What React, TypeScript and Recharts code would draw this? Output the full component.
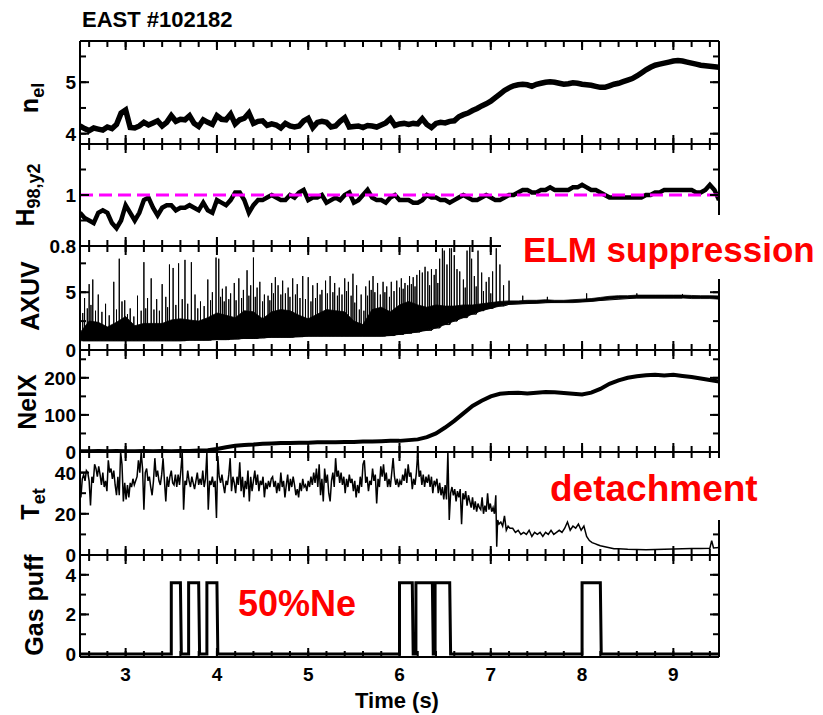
import React from "react";
import { ComposedChart, Line, Area, XAxis, YAxis, ReferenceLine } from "recharts";

const FONT = "'Liberation Sans', Arial, Helvetica, sans-serif";
const CHART_W = 823;
const PLOT_L = 80;
const PLOT_W = 639;
const PLOT_R = CHART_W - PLOT_L - PLOT_W;
const PAD = 14;
const T0 = 2.5;
const X_DOMAIN: [number, number] = [2.5, 9.5];
const TICK_IN = 6;

// shared time axis
const xTicks = [2.6, 2.8, 3, 3.2, 3.4, 3.6, 3.8, 4, 4.2, 4.4, 4.6, 4.8, 5, 5.2, 5.4, 5.6, 5.8, 6, 6.2, 6.4, 6.6, 6.8, 7, 7.2, 7.4, 7.6, 7.8, 8, 8.2, 8.4, 8.6, 8.8, 9, 9.2, 9.4];
const xLabels = [3, 4, 5, 6, 7, 8, 9];

// line-averaged density, every 0.05 s from 2.5 s
const nelValues = [
  4.15, 4.10, 4.06, 4.11, 4.09, 4.07, 4.13, 4.10, 4.18, 4.40,
  4.46, 4.12, 4.11, 4.15, 4.22, 4.17, 4.21, 4.25, 4.15, 4.22,
  4.35, 4.24, 4.28, 4.27, 4.35, 4.20, 4.14, 4.27, 4.22, 4.18,
  4.35, 4.28, 4.27, 4.38, 4.19, 4.27, 4.30, 4.40, 4.20, 4.24,
  4.25, 4.16, 4.19, 4.17, 4.11, 4.20, 4.15, 4.13, 4.15, 4.25,
  4.30, 4.12, 4.22, 4.24, 4.22, 4.13, 4.15, 4.24, 4.31, 4.13,
  4.14, 4.15, 4.12, 4.16, 4.15, 4.13, 4.17, 4.21, 4.29, 4.16,
  4.19, 4.20, 4.18, 4.20, 4.19, 4.29, 4.18, 4.12, 4.20, 4.22,
  4.21, 4.24, 4.25, 4.33, 4.37, 4.40, 4.45, 4.49, 4.54, 4.58,
  4.63, 4.70, 4.77, 4.84, 4.89, 4.93, 4.95, 4.96, 4.95, 4.92,
  4.96, 4.98, 5.00, 5.01, 5.00, 4.98, 4.96, 4.97, 4.99, 4.98,
  4.96, 4.95, 4.94, 4.92, 4.90, 4.90, 4.93, 4.96, 4.98, 5.01,
  5.04, 5.07, 5.12, 5.18, 5.24, 5.29, 5.33, 5.35, 5.37, 5.39,
  5.41, 5.42, 5.41, 5.39, 5.37, 5.35, 5.33, 5.32, 5.31, 5.30,
  5.29,
];

// H98,y2, every 0.05 s from 2.5 s
const h98Values = [
  0.93, 0.91, 0.90, 0.89, 0.93, 0.94, 0.93, 0.89, 0.87, 0.90,
  0.96, 0.93, 0.90, 0.93, 0.98, 0.99, 0.95, 0.92, 0.95, 0.96,
  0.96, 0.94, 0.95, 0.95, 0.96, 0.95, 0.94, 0.97, 0.94, 0.93,
  0.98, 0.97, 0.96, 0.98, 1.01, 1.01, 0.98, 0.93, 0.96, 0.98,
  0.98, 0.99, 1.00, 0.99, 0.98, 0.98, 1.00, 0.99, 1.01, 1.02,
  0.98, 0.99, 0.99, 1.00, 0.97, 0.98, 0.99, 0.98, 1.00, 1.01,
  0.97, 0.98, 1.00, 1.02, 0.99, 0.98, 0.98, 0.97, 0.99, 1.00,
  0.98, 0.98, 0.98, 0.97, 0.97, 0.98, 1.00, 0.99, 0.99, 0.98,
  0.98, 0.97, 0.98, 0.99, 1.00, 0.99, 0.98, 0.98, 0.99, 1.00,
  0.99, 0.98, 0.98, 0.99, 1.00, 1.00, 1.01, 1.02, 1.02, 1.01,
  1.01, 1.02, 1.02, 1.03, 1.02, 1.02, 1.02, 1.02, 1.03, 1.03,
  1.04, 1.03, 1.02, 1.02, 1.01, 1.00, 0.99, 0.99, 0.99, 0.99,
  0.99, 0.99, 0.99, 0.99, 1.00, 1.00, 1.01, 1.01, 1.02, 1.02,
  1.02, 1.02, 1.02, 1.02, 1.02, 1.01, 1.01, 1.02, 1.04, 1.02,
  0.98,
];

// AXUV dense band (lower / upper edge), every 0.1 s from 2.5 s
const axuvLow = [
  0.8, 0.8, 0.8, 0.8, 0.8, 0.8, 0.8, 0.8, 0.8, 0.8,
  0.8, 0.8, 0.85, 0.85, 0.85, 0.9, 0.9, 0.95, 1.0, 1.0,
  1.05, 1.1, 1.1, 1.1, 1.15, 1.2, 1.2, 1.2, 1.2, 1.2,
  1.2, 1.2, 1.2, 1.2, 1.25, 1.35, 1.45, 1.55, 1.7, 1.9,
  2.2, 2.5, 2.8, 3.1, 3.4, 3.6, 3.8, 3.95, 4.0, 4.05,
  4.05, 4.1, 4.1, 4.1, 4.1, 4.15, 4.2, 4.3, 4.4, 4.45,
  4.5, 4.5, 4.5, 4.5, 4.5, 4.5, 4.5, 4.45, 4.45, 4.45,
  4.4,
];
const axuvHigh = [
  1.5, 2.5, 2.4, 2.0, 2.4, 2.9, 2.1, 2.3, 2.3, 2.3,
  2.6, 2.7, 2.6, 2.5, 2.8, 3.2, 3.0, 2.8, 3.4, 3.3,
  2.7, 3.3, 3.5, 3.4, 3.0, 2.7, 3.1, 3.5, 3.4, 3.3,
  2.5, 2.2, 3.5, 3.7, 3.3, 3.9, 4.2, 3.9, 3.7, 3.9,
  3.8, 3.8, 3.9, 3.9, 4.0, 4.1, 4.2, 4.25, 4.25, 4.3,
  4.3, 4.35, 4.3, 4.3, 4.35, 4.4, 4.45, 4.55, 4.65, 4.7,
  4.7, 4.75, 4.75, 4.75, 4.75, 4.75, 4.75, 4.72, 4.7, 4.7,
  4.68,
];
// ELM bursts: [time, peak]
const axuvSpikes: [number, number][] = [
  [2.53, 3.2], [2.55, 4.5], [2.58, 3.6], [2.6, 5.7], [2.62, 3.9], [2.64, 6.1], [2.67, 3.4], [2.7, 4.8], [2.74, 3.3], [2.78, 4.0],
  [2.82, 3.0], [2.87, 5.9], [2.9, 3.5], [2.93, 7.9], [2.96, 4.2], [2.99, 4.3], [3.02, 3.1], [3.05, 3.6], [3.09, 2.9], [3.13, 4.7],
  [3.17, 3.4], [3.2, 7.6], [3.22, 3.6], [3.24, 4.5], [3.28, 6.2], [3.31, 3.5], [3.34, 4.4], [3.37, 3.4], [3.4, 5.7], [3.44, 4.6],
  [3.46, 3.7], [3.48, 7.4], [3.52, 7.1], [3.55, 3.9], [3.58, 7.5], [3.62, 4.4], [3.65, 7.8], [3.68, 4.0], [3.72, 7.6], [3.76, 4.8],
  [3.79, 3.6], [3.82, 4.2], [3.86, 3.8], [3.9, 6.1], [3.93, 4.3], [3.95, 5.0], [3.99, 8.0], [4.02, 7.9], [4.04, 4.6], [4.06, 5.3],
  [4.08, 4.2], [4.1, 5.5], [4.13, 4.4], [4.15, 4.9], [4.19, 5.8], [4.21, 4.3], [4.24, 6.2], [4.27, 4.5], [4.29, 5.2], [4.33, 6.9],
  [4.35, 4.7], [4.37, 5.6], [4.4, 8.0], [4.42, 4.6], [4.44, 5.4], [4.47, 5.9], [4.5, 4.2], [4.52, 4.8], [4.56, 4.7], [4.58, 4.3],
  [4.6, 5.8], [4.62, 4.9], [4.64, 6.3], [4.67, 5.6], [4.7, 4.8], [4.72, 6.0], [4.75, 4.9], [4.78, 5.4], [4.8, 4.6], [4.83, 6.2],
  [4.86, 4.8], [4.88, 5.7], [4.91, 4.5], [4.94, 6.4], [4.97, 4.4], [5.0, 6.3], [5.03, 4.2], [5.05, 5.6], [5.08, 4.5], [5.1, 5.8],
  [5.13, 4.8], [5.15, 5.2], [5.19, 6.0], [5.21, 4.9], [5.24, 6.4], [5.27, 5.0], [5.29, 5.8], [5.32, 4.7], [5.34, 5.4], [5.37, 4.8],
  [5.4, 6.2], [5.42, 5.1], [5.44, 5.9], [5.47, 4.7], [5.49, 6.6], [5.51, 4.1], [5.53, 5.6], [5.56, 3.5], [5.58, 4.8], [5.61, 3.4],
  [5.63, 5.5], [5.65, 4.7], [5.67, 6.0], [5.69, 5.2], [5.71, 6.4], [5.73, 5.0], [5.76, 5.8], [5.79, 4.8], [5.82, 5.9], [5.84, 5.0],
  [5.86, 5.5], [5.89, 4.6], [5.91, 5.9], [5.94, 5.1], [5.97, 6.0], [6.0, 5.4], [6.02, 6.2], [6.04, 5.3], [6.06, 5.8], [6.09, 5.6],
  [6.11, 6.4], [6.13, 5.7], [6.15, 6.3], [6.17, 5.5], [6.19, 6.5], [6.22, 6.9], [6.25, 6.7], [6.28, 7.2], [6.31, 6.8], [6.33, 5.6],
  [6.35, 7.0], [6.38, 6.5], [6.4, 7.0], [6.42, 5.8], [6.44, 7.9], [6.47, 8.8], [6.49, 8.6], [6.52, 7.4], [6.55, 8.8], [6.57, 8.8],
  [6.6, 8.2], [6.63, 7.0], [6.66, 6.8], [6.7, 6.1], [6.72, 5.4], [6.74, 8.6], [6.77, 8.9], [6.79, 7.9], [6.82, 6.4], [6.84, 5.5],
  [6.86, 8.6], [6.9, 6.7], [6.92, 5.1], [6.95, 5.9], [6.98, 6.3], [7.0, 4.9], [7.02, 6.8], [7.06, 8.8], [7.1, 7.4], [7.14, 5.6],
  [7.2, 6.0], [7.35, 4.7], [7.62, 4.6], [8.05, 4.9], [8.6, 4.9], [9.1, 4.85],
];

// NeIX, every 0.1 s from 2.5 s
const neixValues = [
  2, 2, 3, 2, 3, 2, 2, 3, 2, 3,
  2, 3, 3, 4, 5, 8, 13, 17, 19, 20,
  22, 23, 24, 24, 25, 25, 26, 26, 26, 27,
  27, 28, 28, 29, 30, 30, 32, 34, 40, 50,
  66, 84, 104, 124, 138, 150, 157, 159, 160, 158,
  160, 162, 161, 159, 157, 155, 160, 170, 184, 193,
  200, 204, 207, 208, 206, 208, 205, 202, 198, 194,
  190,
];

// target electron temperature: [time, Tet]
const tetPoints: [number, number][] = [
  [2.5, 30], [2.51, 28], [2.525, 37], [2.54, 39], [2.555, 36], [2.57, 41], [2.585, 40], [2.6, 36], [2.615, 24], [2.63, 38],
  [2.645, 35], [2.66, 44], [2.675, 42], [2.69, 38], [2.705, 43], [2.72, 39], [2.735, 34], [2.75, 40], [2.765, 33], [2.78, 36],
  [2.795, 31], [2.81, 46], [2.825, 40], [2.84, 42], [2.855, 37], [2.87, 41], [2.885, 34], [2.9, 29], [2.915, 38], [2.93, 29],
  [2.945, 50], [2.96, 44], [2.975, 26], [2.99, 35], [3.005, 27], [3.02, 34], [3.035, 28], [3.05, 35], [3.065, 33], [3.08, 37],
  [3.095, 34], [3.11, 36], [3.125, 38], [3.14, 46], [3.155, 40], [3.17, 50], [3.185, 42], [3.2, 22], [3.215, 40], [3.23, 42],
  [3.245, 36], [3.26, 38], [3.275, 33], [3.29, 29], [3.305, 36], [3.32, 47], [3.335, 38], [3.35, 41], [3.365, 36], [3.38, 34],
  [3.395, 39], [3.41, 47], [3.425, 36], [3.44, 26], [3.455, 38], [3.47, 33], [3.485, 38], [3.5, 41], [3.515, 35], [3.53, 34],
  [3.545, 39], [3.56, 33], [3.575, 39], [3.59, 34], [3.605, 41], [3.62, 50], [3.635, 22], [3.65, 36], [3.665, 34], [3.68, 41],
  [3.695, 36], [3.71, 33], [3.725, 38], [3.74, 35], [3.755, 32], [3.77, 36], [3.785, 40], [3.8, 34], [3.815, 37], [3.83, 34],
  [3.845, 41], [3.86, 33], [3.875, 37], [3.89, 50], [3.905, 22], [3.92, 36], [3.935, 34], [3.95, 38], [3.965, 33], [3.98, 36],
  [3.995, 18], [4.01, 48], [4.025, 38], [4.04, 35], [4.055, 39], [4.07, 34], [4.085, 30], [4.1, 36], [4.115, 34], [4.13, 39],
  [4.145, 47], [4.16, 31], [4.175, 38], [4.19, 35], [4.205, 30], [4.22, 38], [4.235, 34], [4.25, 45], [4.265, 31], [4.28, 38],
  [4.295, 28], [4.31, 36], [4.325, 32], [4.34, 41], [4.355, 26], [4.37, 38], [4.385, 31], [4.4, 36], [4.415, 41], [4.43, 34],
  [4.445, 39], [4.46, 31], [4.475, 36], [4.49, 34], [4.505, 38], [4.52, 28], [4.535, 35], [4.55, 32], [4.565, 36], [4.58, 33],
  [4.595, 37], [4.61, 38], [4.625, 33], [4.64, 36], [4.655, 30], [4.67, 35], [4.685, 31], [4.7, 40], [4.715, 33], [4.73, 36],
  [4.745, 28], [4.76, 34], [4.775, 39], [4.79, 31], [4.805, 37], [4.82, 33], [4.835, 38], [4.85, 34], [4.865, 29], [4.88, 32],
  [4.895, 28], [4.91, 35], [4.925, 31], [4.94, 37], [4.955, 33], [4.97, 34], [4.985, 31], [5.0, 36], [5.015, 33], [5.03, 38],
  [5.045, 34], [5.06, 40], [5.075, 35], [5.09, 42], [5.105, 33], [5.12, 44], [5.135, 29], [5.15, 37], [5.165, 26], [5.18, 42],
  [5.195, 35], [5.21, 39], [5.225, 30], [5.24, 26], [5.255, 36], [5.27, 40], [5.285, 33], [5.3, 47], [5.315, 38], [5.33, 41],
  [5.345, 35], [5.36, 40], [5.375, 34], [5.39, 38], [5.405, 30], [5.42, 37], [5.435, 33], [5.45, 39], [5.465, 35], [5.48, 37],
  [5.495, 31], [5.51, 36], [5.525, 28], [5.54, 34], [5.555, 30], [5.57, 38], [5.585, 33], [5.6, 44], [5.615, 46], [5.63, 35],
  [5.645, 38], [5.66, 31], [5.675, 36], [5.69, 34], [5.705, 42], [5.72, 36], [5.735, 39], [5.75, 25], [5.765, 37], [5.78, 33],
  [5.795, 43], [5.81, 38], [5.825, 44], [5.84, 36], [5.855, 40], [5.87, 33], [5.885, 37], [5.9, 33], [5.915, 40], [5.93, 47],
  [5.945, 38], [5.96, 34], [5.975, 37], [5.99, 33], [6.005, 36], [6.02, 34], [6.035, 39], [6.05, 36], [6.065, 42], [6.08, 35],
  [6.095, 44], [6.11, 38], [6.125, 40], [6.14, 32], [6.155, 37], [6.17, 34], [6.185, 40], [6.2, 50], [6.215, 38], [6.23, 41],
  [6.245, 34], [6.26, 39], [6.275, 33], [6.29, 38], [6.305, 35], [6.32, 39], [6.335, 33], [6.35, 38], [6.365, 30], [6.38, 36],
  [6.395, 34], [6.41, 37], [6.425, 30], [6.44, 35], [6.455, 29], [6.47, 33], [6.485, 27], [6.5, 34], [6.515, 27], [6.53, 50],
  [6.545, 17], [6.56, 30], [6.575, 33], [6.59, 29], [6.605, 32], [6.62, 26], [6.635, 31], [6.65, 28], [6.665, 32], [6.68, 15],
  [6.695, 30], [6.71, 27], [6.725, 31], [6.74, 24], [6.755, 29], [6.77, 26], [6.785, 23], [6.8, 28], [6.815, 22], [6.83, 26],
  [6.845, 21], [6.86, 25], [6.875, 23], [6.89, 22], [6.905, 28], [6.92, 20], [6.935, 24], [6.95, 21], [6.965, 30], [6.98, 22],
  [6.995, 25], [7.01, 21], [7.025, 23], [7.04, 20], [7.055, 29], [7.065, 4], [7.075, 17], [7.09, 15], [7.11, 16], [7.13, 14],
  [7.15, 19], [7.17, 12], [7.19, 14], [7.21, 13], [7.24, 13], [7.27, 11], [7.3, 12], [7.33, 10], [7.36, 11], [7.39, 10],
  [7.42, 12], [7.45, 9], [7.48, 11], [7.51, 10], [7.54, 11], [7.57, 9], [7.6, 11], [7.63, 10], [7.66, 12], [7.69, 10],
  [7.72, 11], [7.75, 12], [7.78, 11], [7.81, 13], [7.84, 16], [7.87, 12], [7.9, 14], [7.93, 13], [7.96, 15], [7.99, 12],
  [8.02, 14], [8.05, 9], [8.08, 7], [8.11, 6], [8.14, 5.5], [8.17, 5], [8.2, 4.5], [8.25, 4], [8.3, 3.5], [8.35, 3],
  [8.4, 3], [8.5, 2.8], [8.6, 2.7], [8.7, 2.6], [8.8, 2.7], [8.9, 2.8], [9.0, 2.9], [9.1, 3.0], [9.2, 3.1], [9.3, 3.2],
  [9.4, 3.3], [9.42, 7], [9.44, 3.4], [9.5, 3.6],
];

// 50%Ne gas puff pulses
const puffStart = [3.5, 3.69, 3.89, 6.0, 6.18, 6.39, 8.0];
const puffEnd = [3.6, 3.8, 4.0, 6.14, 6.36, 6.55, 8.2];
const puffLevel = 3.6;

const nelData = nelValues.map((v, i) => ({ t: T0 + i * 0.05, v }));
const h98Data = h98Values.map((v, i) => ({ t: T0 + i * 0.05, v }));
const axuvBand = axuvLow.map((lo, i) => ({ t: T0 + i * 0.1, band: [lo, axuvHigh[i]] }));
const axuvSpikeData = axuvSpikes.flatMap(([t, peak]) => {
  const base = axuvLow[Math.round((t - T0) / 0.1)];
  return [{ t, v: base }, { t, v: peak }, { t, v: base }];
});
const neixData = neixValues.map((v, i) => ({ t: T0 + i * 0.1, v }));
const tetData = tetPoints.map(([t, v]) => ({ t, v }));
const gasData = [
  { t: 2.5, v: 0 },
  ...puffStart.flatMap((s, i) => [
    { t: s, v: 0 },
    { t: s, v: puffLevel },
    { t: puffEnd[i], v: puffLevel },
    { t: puffEnd[i] + 0.01, v: 0 },
  ]),
  { t: 9.5, v: 0 },
];

const tickLineStyle = { stroke: "#000", strokeWidth: 2 };
const noLabel = () => <g />;

function renderXTick(props: any, showLabel: boolean) {
  const { x, y, payload } = props;
  const v = payload.value;
  if (!showLabel || !xLabels.includes(v)) return <g />;
  return (
    <text x={x} y={y + 24} textAnchor="middle" fontSize={19} fontWeight="bold" fontFamily={FONT} fill="#000">
      {v}
    </text>
  );
}

function renderYTick(props: any, labels: number[]) {
  const { x, y, payload } = props;
  const v = payload.value;
  if (!labels.includes(v)) return <g />;
  return (
    <text x={x - 4} y={y + 7} textAnchor="end" fontSize={19} fontWeight="bold" fontFamily={FONT} fill="#000">
      {v}
    </text>
  );
}

type PanelProps = {
  top: number;
  height: number;
  domain: [number, number];
  yTicks: number[];
  yLabels: number[];
  showX?: boolean;
  children: React.ReactNode;
};

function Panel({ top, height, domain, yTicks, yLabels, showX = false, children }: PanelProps) {
  const bottom = showX ? 40 : PAD;
  const [y0, y1] = domain;
  const perPxY = (y1 - y0) / height;
  const perPxX = (X_DOMAIN[1] - X_DOMAIN[0]) / PLOT_W;
  // longer inward marks for the labelled (major) ticks
  const majorSegments = [
    ...xLabels.flatMap((t) => [
      [{ x: t, y: y0 }, { x: t, y: y0 + 9 * perPxY }],
      [{ x: t, y: y1 }, { x: t, y: y1 - 9 * perPxY }],
    ]),
    ...yLabels.flatMap((v) => [
      [{ x: X_DOMAIN[0], y: v }, { x: X_DOMAIN[0] + 9 * perPxX, y: v }],
      [{ x: X_DOMAIN[1], y: v }, { x: X_DOMAIN[1] - 9 * perPxX, y: v }],
    ]),
  ];
  return (
    <div style={{ position: "absolute", left: 0, top: top - PAD }}>
      <ComposedChart width={CHART_W} height={height + PAD + bottom} margin={{ top: 0, right: 0, bottom: 0, left: 0 }}>
        <XAxis
          type="number"
          dataKey="t"
          domain={X_DOMAIN}
          ticks={xTicks}
          interval={0}
          allowDataOverflow
          height={bottom}
          tickSize={-TICK_IN}
          tickMargin={TICK_IN}
          tickLine={tickLineStyle}
          axisLine={{ stroke: "#000", strokeWidth: 2 }}
          tick={(p: any) => renderXTick(p, showX)}
        />
        <XAxis
          xAxisId="top"
          orientation="top"
          type="number"
          dataKey="t"
          domain={X_DOMAIN}
          ticks={xTicks}
          interval={0}
          allowDataOverflow
          height={PAD}
          tickSize={-TICK_IN}
          tickMargin={0}
          tickLine={tickLineStyle}
          axisLine={{ stroke: "#000", strokeWidth: 2 }}
          tick={noLabel}
        />
        <YAxis
          type="number"
          domain={domain}
          ticks={yTicks}
          interval={0}
          allowDataOverflow
          width={PLOT_L}
          tickSize={-TICK_IN}
          tickMargin={TICK_IN}
          tickLine={tickLineStyle}
          axisLine={{ stroke: "#000", strokeWidth: 2 }}
          tick={(p: any) => renderYTick(p, yLabels)}
        />
        <YAxis
          yAxisId="right"
          orientation="right"
          type="number"
          domain={domain}
          ticks={yTicks}
          interval={0}
          allowDataOverflow
          width={PLOT_R}
          tickSize={-TICK_IN}
          tickMargin={0}
          tickLine={tickLineStyle}
          axisLine={{ stroke: "#000", strokeWidth: 2 }}
          tick={noLabel}
        />
        {children}
        <ReferenceLine y={y1} stroke="#000" strokeWidth={2} />
        <ReferenceLine x={X_DOMAIN[1]} stroke="#000" strokeWidth={2} />
        {majorSegments.map((seg, i) => (
          <ReferenceLine key={i} segment={seg} stroke="#000" strokeWidth={2} />
        ))}
      </ComposedChart>
    </div>
  );
}

const textBase: React.CSSProperties = {
  position: "absolute",
  fontFamily: FONT,
  fontWeight: "bold",
  whiteSpace: "nowrap",
  lineHeight: 1,
  color: "#000",
};

function YTitle({ cx, cy, children }: { cx: number; cy: number; children: React.ReactNode }) {
  return (
    <div
      style={{
        ...textBase,
        left: cx,
        top: cy,
        fontSize: 25,
        transform: "translate(-50%, -50%) rotate(-90deg)",
      }}
    >
      {children}
    </div>
  );
}

const subStyle: React.CSSProperties = { fontSize: "0.72em", verticalAlign: "-0.3em" };

export default function App() {
  return (
    <div style={{ position: "absolute", left: 0, top: 0, width: 823, height: 715, background: "#fff", overflow: "hidden" }}>
      <Panel top={41} height={103} domain={[3.8, 5.8]} yTicks={[4, 4.5, 5, 5.5]} yLabels={[4, 5]}>
        <Line data={nelData} dataKey="v" type="linear" stroke="#000" strokeWidth={5.5} dot={false} isAnimationActive={false} />
      </Panel>
      <Panel top={144} height={102} domain={[0.8, 1.2]} yTicks={[0.8, 0.9, 1, 1.1]} yLabels={[0.8, 1]}>
        <Line data={h98Data} dataKey="v" type="linear" stroke="#000" strokeWidth={4.5} dot={false} isAnimationActive={false} />
        <ReferenceLine y={1} stroke="#ff00ff" strokeWidth={3} strokeDasharray="13 6" />
      </Panel>
      <Panel top={246} height={104} domain={[0, 9]} yTicks={[0, 2.5, 5, 7.5]} yLabels={[0, 5]}>
        <Area data={axuvBand} dataKey="band" type="linear" stroke="#000" strokeWidth={0.8} fill="#000" fillOpacity={1} dot={false} isAnimationActive={false} />
        <Line data={axuvSpikeData} dataKey="v" type="linear" stroke="#000" strokeWidth={1} dot={false} isAnimationActive={false} />
      </Panel>
      <Panel top={350} height={102} domain={[0, 275]} yTicks={[0, 50, 100, 150, 200, 250]} yLabels={[0, 100, 200]}>
        <Line data={neixData} dataKey="v" type="linear" stroke="#000" strokeWidth={4} dot={false} isAnimationActive={false} />
      </Panel>
      <Panel top={452} height={103} domain={[0, 50]} yTicks={[0, 10, 20, 30, 40]} yLabels={[0, 20, 40]}>
        <Line data={tetData} dataKey="v" type="linear" stroke="#000" strokeWidth={1.5} dot={false} isAnimationActive={false} />
      </Panel>
      <Panel top={555} height={102} domain={[-0.15, 5]} yTicks={[0, 1, 2, 3, 4]} yLabels={[0, 2, 4]} showX>
        <Line data={gasData} dataKey="v" type="linear" stroke="#000" strokeWidth={3} dot={false} isAnimationActive={false} />
      </Panel>

      <div style={{ ...textBase, left: 82, top: 9, fontSize: 22 }}>EAST #102182</div>

      <YTitle cx={32} cy={98}>
        n<span style={subStyle}>el</span>
      </YTitle>
      <YTitle cx={28} cy={195}>
        H<span style={subStyle}>98,y2</span>
      </YTitle>
      <YTitle cx={30} cy={296}>AXUV</YTitle>
      <YTitle cx={27} cy={402}>NeIX</YTitle>
      <YTitle cx={33} cy={504}>
        T<span style={subStyle}>et</span>
      </YTitle>
      <YTitle cx={34} cy={605}>Gas puff</YTitle>

      <div style={{ ...textBase, left: 355, top: 690, fontSize: 22 }}>Time (s)</div>

      <div style={{ position: "absolute", left: 501, top: 215, width: 322, height: 64, background: "#fff" }} />
      <div style={{ ...textBase, left: 523, top: 232, fontSize: 35, color: "#ff0000" }}>ELM suppression</div>

      <div style={{ position: "absolute", left: 545, top: 458, width: 278, height: 62, background: "#fff" }} />
      <div style={{ ...textBase, left: 550, top: 470, fontSize: 37, color: "#ff0000" }}>detachment</div>

      <div style={{ ...textBase, left: 238, top: 586, fontSize: 36, color: "#ff0000" }}>50%Ne</div>
    </div>
  );
}
